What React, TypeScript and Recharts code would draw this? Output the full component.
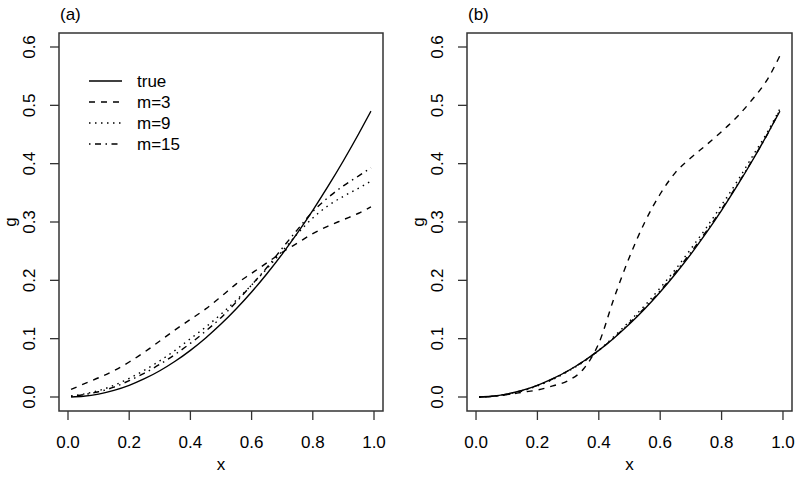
import React from 'react';
import { LineChart, Line, XAxis, YAxis, ReferenceArea, Legend, Label } from 'recharts';

// ---- data ----
const xs = [0.01, 0.05, 0.1, 0.15, 0.2, 0.25, 0.3, 0.35, 0.4, 0.45, 0.5, 0.55, 0.6, 0.65, 0.7, 0.75, 0.8, 0.85, 0.9, 0.95, 0.99];

const trueCurve = [0.0001, 0.0013, 0.005, 0.0113, 0.02, 0.0313, 0.045, 0.0613, 0.08, 0.1013, 0.125, 0.1513, 0.18, 0.2113, 0.245, 0.2813, 0.32, 0.3613, 0.405, 0.4513, 0.49];

// panel (a)
const aM3 = [0.013, 0.022, 0.033, 0.045, 0.06, 0.077, 0.096, 0.115, 0.133, 0.151, 0.172, 0.194, 0.212, 0.23, 0.248, 0.264, 0.28, 0.293, 0.304, 0.315, 0.326];
const aM9 = [0.002, 0.005, 0.011, 0.02, 0.032, 0.046, 0.062, 0.08, 0.1, 0.12, 0.142, 0.166, 0.192, 0.22, 0.25, 0.28, 0.307, 0.328, 0.344, 0.358, 0.37];
const aM15 = [0.001, 0.004, 0.009, 0.017, 0.028, 0.041, 0.056, 0.073, 0.092, 0.113, 0.136, 0.163, 0.192, 0.222, 0.255, 0.287, 0.318, 0.342, 0.362, 0.379, 0.393];

// panel (b)
const bM3 = [0.0, 0.001, 0.004, 0.008, 0.012, 0.019, 0.028, 0.048, 0.092, 0.17, 0.24, 0.3, 0.348, 0.385, 0.41, 0.432, 0.455, 0.48, 0.51, 0.545, 0.585];
const bM9 = [0.0, 0.001, 0.004, 0.01, 0.019, 0.03, 0.044, 0.06, 0.08, 0.104, 0.13, 0.157, 0.187, 0.219, 0.254, 0.29, 0.329, 0.369, 0.412, 0.455, 0.494];
const bM15 = [0.0, 0.001, 0.005, 0.011, 0.02, 0.031, 0.045, 0.061, 0.08, 0.102, 0.127, 0.153, 0.182, 0.214, 0.248, 0.284, 0.322, 0.363, 0.406, 0.451, 0.492];

const xTicks = [0, 0.2, 0.4, 0.6, 0.8, 1.0];
const yTicks = [0, 0.1, 0.2, 0.3, 0.4, 0.5, 0.6];
const xTickLabels = ['0.0', '0.2', '0.4', '0.6', '0.8', '1.0'];
const yTickLabels = ['0.0', '0.1', '0.2', '0.3', '0.4', '0.5', '0.6'];

const seriesKeys = ['true', 'm3', 'm9', 'm15'];
const seriesNames = ['true', 'm=3', 'm=9', 'm=15'];
const panelTags = ['(a)', '(b)'];
const xTitle = 'x';
const yTitle = 'g';

// ---- styling ----
const FONT = '"Liberation Sans", Arial, Helvetica, sans-serif';
const FS = 17;
const INK = '#000';
const FRAME = '#333';
const DASHES: (string | undefined)[] = [undefined, '6 6', '1.5 4.5', '1.5 4.5 6 4.5'];
const X_DOMAIN: [number, number] = [-0.0294, 1.0294];
const Y_DOMAIN: [number, number] = [-0.024, 0.624];

function buildRows(m3: number[], m9: number[], m15: number[]) {
  return xs.map((x, i) => ({ x, true: trueCurve[i], m3: m3[i], m9: m9[i], m15: m15[i] }));
}

const dataA = buildRows(aM3, aM9, aM15);
const dataB = buildRows(bM3, bM9, bM15);

const XTick = (p: any) => {
  const idx = xTicks.indexOf(p.payload.value);
  return (
    <text x={p.x} y={p.y} dy="0.71em" textAnchor="middle" fontSize={FS} fontFamily={FONT} fill={INK}>
      {idx >= 0 ? xTickLabels[idx] : String(p.payload.value)}
    </text>
  );
};

const YTick = (p: any) => {
  const idx = yTicks.indexOf(p.payload.value);
  return (
    <text
      x={p.x}
      y={p.y}
      transform={`rotate(-90 ${p.x} ${p.y})`}
      textAnchor="middle"
      fontSize={FS}
      fontFamily={FONT}
      fill={INK}
    >
      {idx >= 0 ? yTickLabels[idx] : String(p.payload.value)}
    </text>
  );
};

const LegendBox = () => (
  <svg width={130} height={90} style={{ display: 'block' }}>
    {seriesNames.map((name, i) => (
      <g key={name}>
        <line x1={9} x2={42} y1={13 + i * 21} y2={13 + i * 21} stroke={INK} strokeWidth={1.4} strokeDasharray={DASHES[i]} />
        <text x={57} y={13 + i * 21} dy="0.35em" fontSize={FS} fontFamily={FONT} fill={INK}>
          {name}
        </text>
      </g>
    ))}
  </svg>
);

type PanelProps = {
  data: any[];
  yAxisWidth: number;
  rightMargin: number;
  showLegend: boolean;
  tag: string;
  left: number;
};

const Panel = ({ data, yAxisWidth, rightMargin, showLegend, tag, left }: PanelProps) => (
  <div style={{ position: 'absolute', left, top: 0, width: 400, height: 477 }}>
    <LineChart width={400} height={477} data={data} margin={{ top: 33, right: rightMargin, bottom: 0, left: 0 }}>
      <XAxis
        dataKey="x"
        type="number"
        domain={X_DOMAIN}
        allowDataOverflow
        ticks={xTicks}
        interval={0}
        height={66}
        axisLine={false}
        tickSize={9}
        tickMargin={16}
        tickLine={{ stroke: FRAME, strokeWidth: 1.3 }}
        tick={<XTick />}
      >
        <Label
          content={(p: any) => {
            const vb = p.viewBox || { x: 0, y: 0, width: 0, height: 0 };
            return (
              <text x={vb.x + vb.width / 2} y={vb.y + 59} textAnchor="middle" fontSize={FS} fontFamily={FONT} fill={INK}>
                {xTitle}
              </text>
            );
          }}
        />
      </XAxis>
      <YAxis
        type="number"
        domain={Y_DOMAIN}
        allowDataOverflow
        ticks={yTicks}
        interval={0}
        width={yAxisWidth}
        axisLine={false}
        tickSize={9}
        tickMargin={15}
        tickLine={{ stroke: FRAME, strokeWidth: 1.3 }}
        tick={<YTick />}
      >
        <Label
          content={(p: any) => {
            const vb = p.viewBox || { x: 0, y: 0, width: 0, height: 0 };
            const bx = vb.x + vb.width - 43;
            const by = vb.y + vb.height / 2;
            return (
              <text x={bx} y={by} transform={`rotate(-90 ${bx} ${by})`} textAnchor="middle" fontSize={FS} fontFamily={FONT} fill={INK}>
                {yTitle}
              </text>
            );
          }}
        />
      </YAxis>
      <ReferenceArea
        x1={X_DOMAIN[0]}
        x2={X_DOMAIN[1]}
        y1={Y_DOMAIN[0]}
        y2={Y_DOMAIN[1]}
        fill="none"
        fillOpacity={0}
        stroke={FRAME}
        strokeWidth={1.5}
        ifOverflow="visible"
      />
      {seriesKeys.map((k, i) => (
        <Line
          key={k}
          dataKey={k}
          name={seriesNames[i]}
          type="monotone"
          stroke={INK}
          strokeWidth={1.4}
          strokeDasharray={DASHES[i]}
          dot={false}
          activeDot={false}
          isAnimationActive={false}
        />
      ))}
      {showLegend && (
        <Legend
          layout="vertical"
          align="center"
          verticalAlign="middle"
          wrapperStyle={{ left: 80, top: 68, width: 130, height: 90 }}
          content={() => <LegendBox />}
        />
      )}
    </LineChart>
    <svg width={400} height={30} style={{ position: 'absolute', left: 0, top: 0, pointerEvents: 'none' }}>
      <text x={left === 0 ? 60 : 68} y={20} fontSize={FS} fontFamily={FONT} fill={INK}>
        {tag}
      </text>
    </svg>
  </div>
);

export default function App() {
  return (
    <div style={{ position: 'absolute', left: 0, top: 0, width: 800, height: 477, background: '#fff', overflow: 'hidden' }}>
      <Panel data={dataA} yAxisWidth={59} rightMargin={17} showLegend tag={panelTags[0]} left={0} />
      <Panel data={dataB} yAxisWidth={67} rightMargin={8} showLegend={false} tag={panelTags[1]} left={400} />
    </div>
  );
}
